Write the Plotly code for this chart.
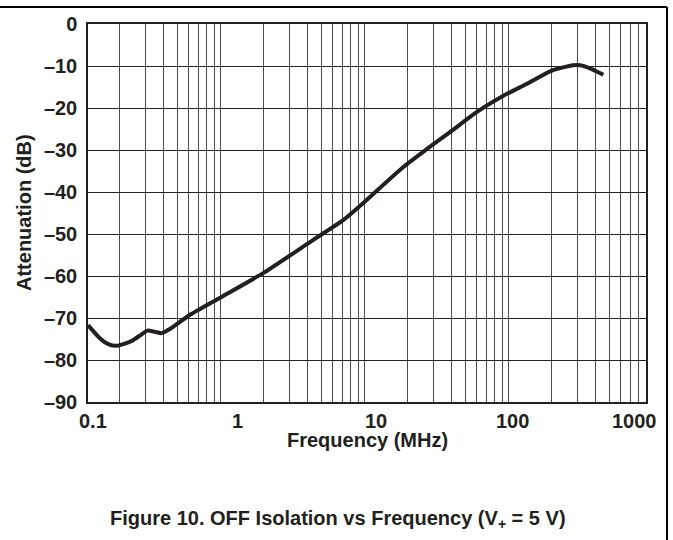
import math
import plotly.graph_objects as go

# OFF isolation measurement (V+ = 5 V)
freq_mhz = [0.12, 0.145, 0.166, 0.19, 0.24, 0.28, 0.31, 0.35, 0.39, 0.45,
            0.61, 1.0, 2.0, 4.4, 7.1, 9.3, 18.5, 27, 39, 60,
            92, 133, 200, 280, 315, 365, 455]
attenuation_db = [-71.7, -74.8, -76.2, -76.6, -75.5, -74.0, -73.0, -73.3, -73.6, -72.5,
                  -69.3, -65.1, -59.2, -51.4, -46.7, -43.3, -34.1, -29.8, -25.8, -21.0,
                  -17.1, -14.3, -11.1, -9.8, -9.8, -10.5, -12.1]

# axis labelling
x_tick_values = [0.1, 1, 10, 100, 1000]
x_tick_text = ["0.1", "1", "10", "100", "1000"]
y_tick_values = [0, -10, -20, -30, -40, -50, -60, -70, -80, -90]
y_tick_text = ["0", "–10", "–20", "–30", "–40", "–50", "–60", "–70", "–80", "–90"]

# vertical grid at every 1-2-...-9 step of each decade
grid_freqs = [m * 10 ** d for d in (-1, 0, 1, 2) for m in range(1, 10)]

X_MIN, X_MAX = math.log10(0.12), math.log10(900)

INK = "#231f20"
FONT = dict(family="Liberation Sans, Arial, sans-serif", size=20, color=INK, weight="bold")

fig = go.Figure()
fig.add_trace(go.Scatter(
    x=freq_mhz, y=attenuation_db, mode="lines",
    line=dict(color=INK, width=4, shape="spline", smoothing=0.6),
    showlegend=False, hoverinfo="skip",
))

fig.update_layout(
    width=673, height=540,
    margin=dict(l=88, r=27, t=24, b=138),
    paper_bgcolor="white", plot_bgcolor="white",
    font=FONT,
    xaxis=dict(
        type="log", range=[X_MIN, X_MAX],
        tickmode="array", tickvals=grid_freqs, showticklabels=False,
        showgrid=True, gridcolor="#4a4a4a", gridwidth=1.2,
        showline=True, linecolor=INK, linewidth=1.5, mirror=True,
        ticks="", zeroline=False,
    ),
    yaxis=dict(
        range=[-90, 0], tickmode="array", tickvals=y_tick_values, ticktext=y_tick_text,
        showgrid=True, gridcolor="#222222", gridwidth=1.2,
        showline=True, linecolor=INK, linewidth=1.5, mirror=True,
        ticks="outside", ticklen=5, tickcolor="rgba(0,0,0,0)",
        tickfont=FONT, zeroline=False,
    ),
)

# decade labels beneath the frequency axis (decades 0.1 and 1000 sit just
# outside the plotted span, so labels are placed along the axis fraction)
label_xshift = [16, 17, 11, 4, -18]
for val, txt, dx in zip(x_tick_values, x_tick_text, label_xshift):
    frac = (math.log10(val) - X_MIN) / (X_MAX - X_MIN)
    fig.add_annotation(
        x=frac, y=0, xref="paper", yref="paper", text=txt,
        showarrow=False, xanchor="center", yanchor="middle",
        xshift=dx, yshift=-19, font=FONT,
    )

# axis titles and caption
fig.add_annotation(x=(367.5 - 88) / 558, y=0, xref="paper", yref="paper",
                   text="Frequency (MHz)", showarrow=False,
                   xanchor="center", yanchor="middle", yshift=-38, font=FONT)
fig.add_annotation(x=-64 / 558, y=0.5, xref="paper", yref="paper",
                   text="Attenuation (dB)", showarrow=False, textangle=-90,
                   xanchor="center", yanchor="middle", font=FONT)
fig.add_annotation(x=(337.5 - 88) / 558, y=0, xref="paper", yref="paper",
                   text="Figure 10. OFF Isolation vs Frequency (V<sub>+</sub> = 5 V)",
                   showarrow=False, xanchor="center", yanchor="middle",
                   yshift=-117, font=FONT)

# page rules: top edge and right margin
fig.add_shape(type="line", xref="paper", yref="paper",
              x0=-88 / 558, x1=(667 - 88) / 558, y0=(402 - 7) / 378, y1=(402 - 7) / 378,
              line=dict(color="black", width=2))
fig.add_shape(type="line", xref="paper", yref="paper",
              x0=(667 - 88) / 558, x1=(667 - 88) / 558, y0=(402 - 7) / 378, y1=(402 - 545) / 378,
              line=dict(color="black", width=2))

fig.write_html("out.html")
